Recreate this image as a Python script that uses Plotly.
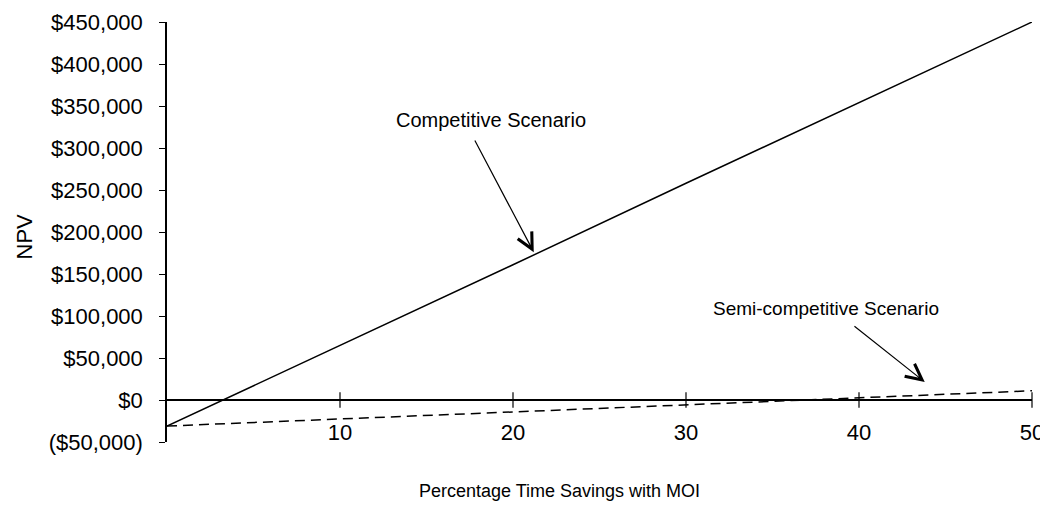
import plotly.graph_objects as go

# percentage time savings (x) and NPV for each scenario
savings = [0, 10, 20, 30, 40, 50]
competitive = [-31000, 65000, 161000, 258000, 354000, 450000]
semi_competitive = [-31000, -22600, -14200, -5800, 2600, 11000]

x_ticks = [10, 20, 30, 40, 50]
x_tick_labels = ['10', '20', '30', '40', '50']
y_ticks = [-50000, 0, 50000, 100000, 150000, 200000, 250000, 300000, 350000, 400000, 450000]
y_tick_labels = ['($50,000)', '$0', '$50,000', '$100,000', '$150,000', '$200,000',
                 '$250,000', '$300,000', '$350,000', '$400,000', '$450,000']

FONT = 'Liberation Sans, Arial, sans-serif'

fig = go.Figure()

fig.add_trace(go.Scatter(
    x=savings, y=competitive, mode='lines', name='Competitive Scenario',
    line=dict(color='black', width=1.5)
))
fig.add_trace(go.Scatter(
    x=savings, y=semi_competitive, mode='lines', name='Semi-competitive Scenario',
    line=dict(color='black', width=1.5, dash='10px,6px')
))

# tick marks sitting on the $0 line
fig.add_trace(go.Scatter(
    x=x_ticks, y=[0] * len(x_ticks), mode='markers',
    marker=dict(symbol='line-ns-open', size=11, color='black',
                line=dict(color='black', width=1.2)),
    hoverinfo='skip', cliponaxis=False
))
# x tick labels printed down at the bottom row
fig.add_trace(go.Scatter(
    x=x_ticks, y=[-41000] * len(x_ticks), mode='text', text=x_tick_labels,
    textfont=dict(family=FONT, size=22, color='black'), hoverinfo='skip',
    cliponaxis=False
))

fig.add_annotation(x=18.7, y=333000, text='Competitive Scenario', showarrow=False,
                   font=dict(family=FONT, size=20, color='black'))
fig.add_annotation(x=21.2, y=176000, ax=17.75, ay=310700, axref='x', ayref='y',
                   text='', showarrow=True, arrowhead=5, arrowsize=2.6,
                   arrowwidth=1.2, arrowcolor='black')

fig.add_annotation(x=38.1, y=109500, text='Semi-competitive Scenario', showarrow=False,
                   font=dict(family=FONT, size=19, color='black'))
fig.add_annotation(x=43.8, y=21400, ax=39.65, ay=89300, axref='x', ayref='y',
                   text='', showarrow=True, arrowhead=5, arrowsize=2.6,
                   arrowwidth=1.2, arrowcolor='black')

fig.add_annotation(x=22.7, y=-0.117, xref='x', yref='paper', yanchor='middle',
                   text='Percentage Time Savings with MOI', showarrow=False,
                   font=dict(family=FONT, size=18, color='black'))

fig.add_annotation(x=-0.165, y=0.49, xref='paper', yref='paper', textangle=-90,
                   xanchor='center', yanchor='middle',
                   text='NPV', showarrow=False,
                   font=dict(family=FONT, size=22, color='black'))

# the page body adds an 8px offset, so the figure is sized to sit inside the window
fig.update_layout(
    width=1040, height=498,
    margin=dict(l=159, r=16, t=14, b=64),
    paper_bgcolor='white', plot_bgcolor='white',
    showlegend=False,
    font=dict(family=FONT, size=22, color='black'),
    xaxis=dict(range=[0, 50], showgrid=False, zeroline=False, showline=False,
               showticklabels=False, ticks='', automargin=False),
    yaxis=dict(range=[-50000, 450000], tickvals=y_ticks, ticktext=y_tick_labels,
               showgrid=False, zeroline=True, zerolinecolor='black', zerolinewidth=1.5,
               showline=True, linecolor='black', linewidth=1.5,
               ticks='outside', ticklen=6, tickcolor='black', tickwidth=1.2,
               ticklabelstandoff=12, automargin=False),
)

fig.write_html('out.html')
